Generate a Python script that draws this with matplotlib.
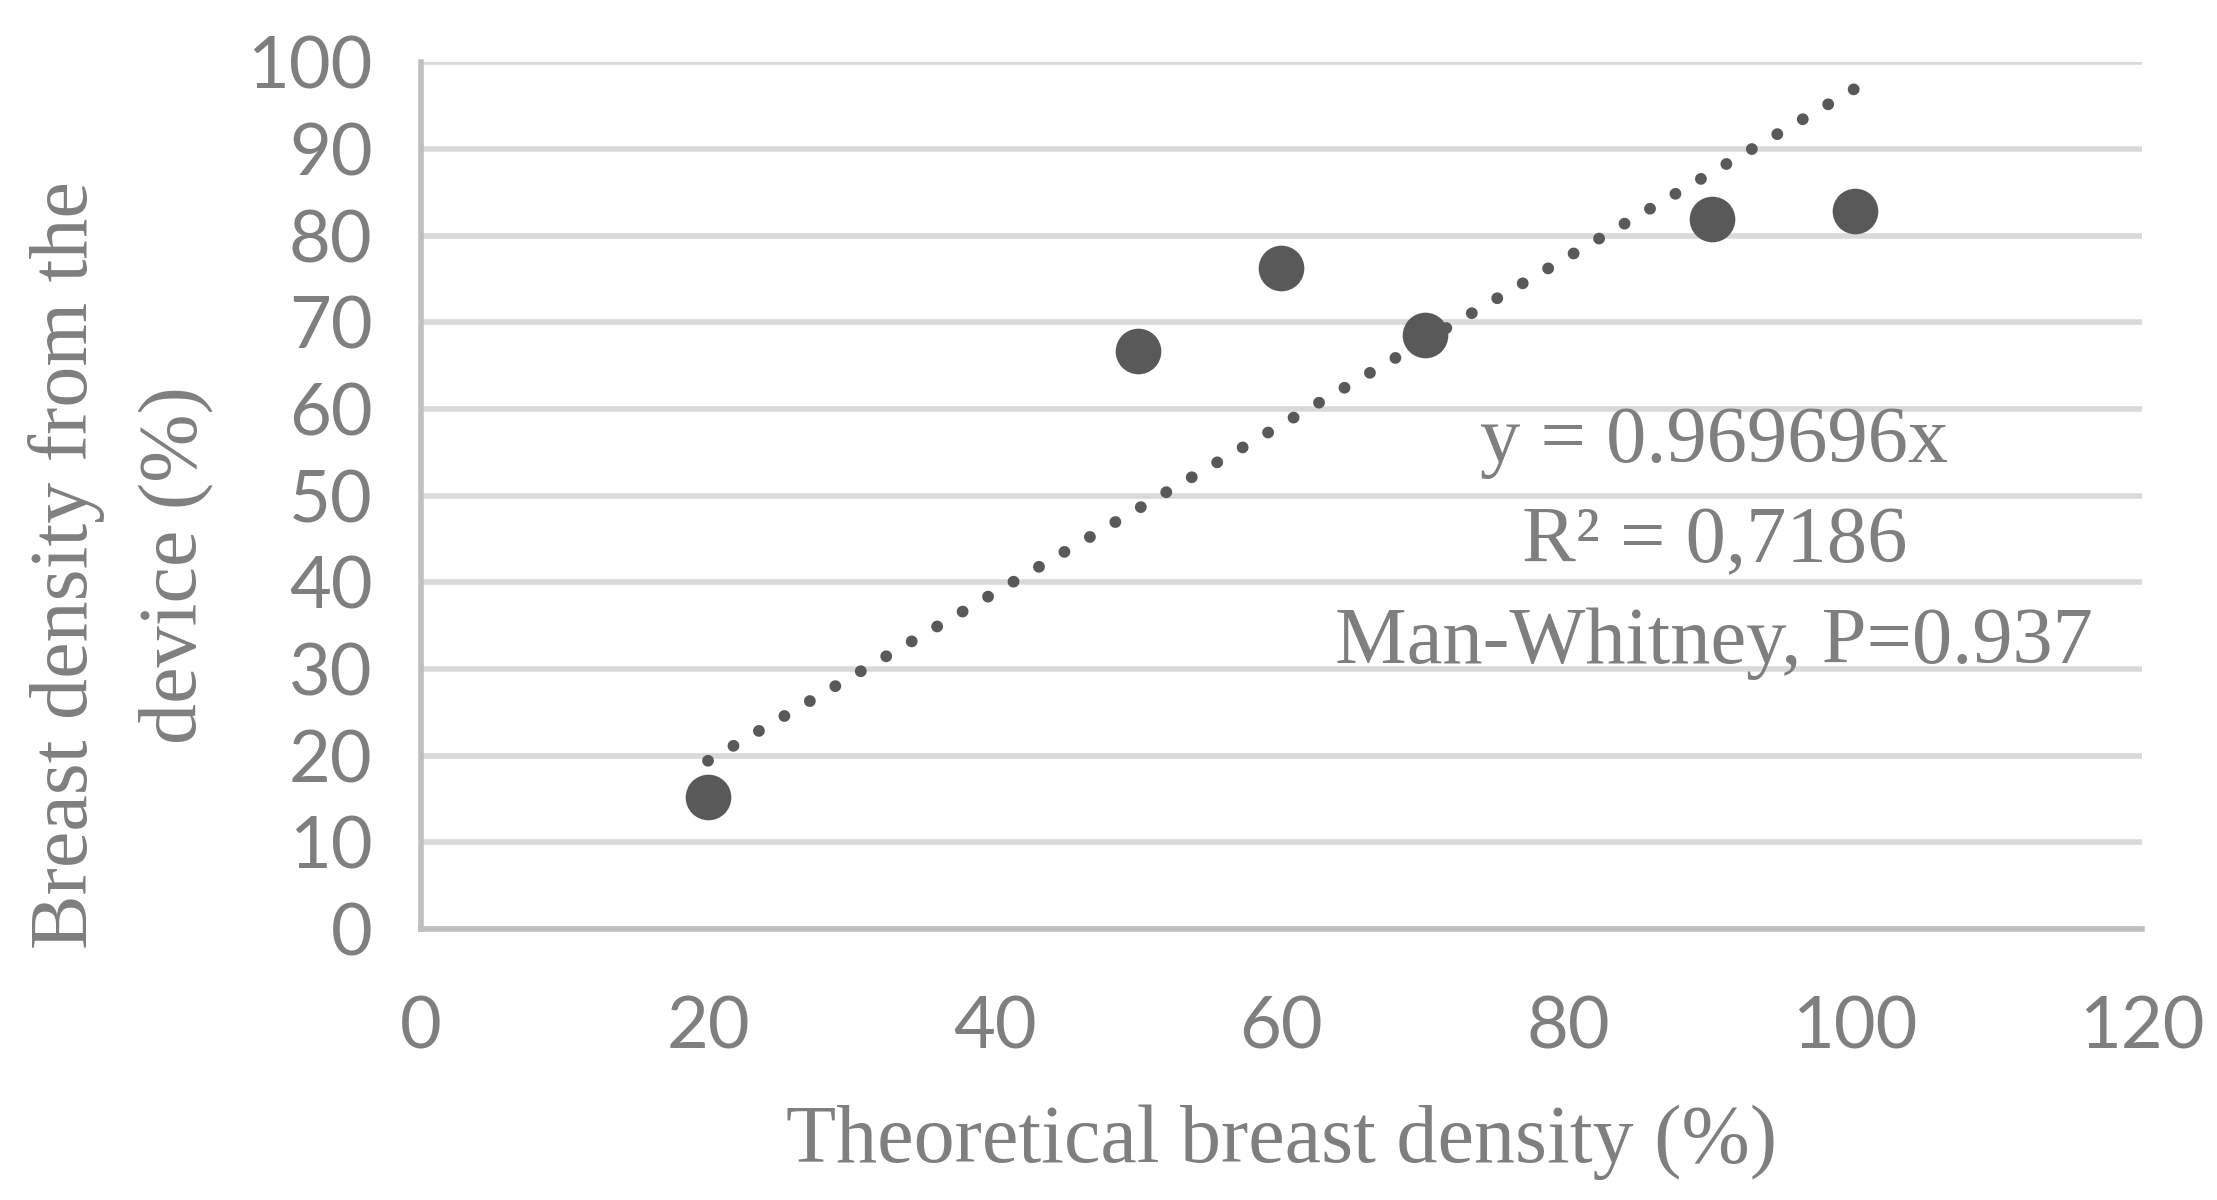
import matplotlib
matplotlib.use('Agg')
import matplotlib.pyplot as plt
import numpy as np

# data
theoretical = [20, 50, 60, 70, 90, 100]
device = [15.2, 66.7, 76.3, 68.5, 81.9, 82.9]
slope = 0.969696
xticks = [0, 20, 40, 60, 80, 100, 120]
yticks = [0, 10, 20, 30, 40, 50, 60, 70, 80, 90, 100]
notes = ['y = 0.969696x', 'R² = 0,7186', 'Man-Whitney, P=0.937']

txt = '#7f7f7f'
dark = '#595959'
serif = ['Liberation Serif', 'DejaVu Serif']
sans = ['Lato', 'DejaVu Sans']

fig = plt.figure(figsize=(22.17, 12), dpi=100)
ax = fig.add_axes([0.19, 0.226, 0.776, 0.722])
ax.set_xlim(0, 120)
ax.set_ylim(0, 100)

# trendline through origin over the data range; dots spaced so one lands on each end
xs = np.array([min(theoretical), max(theoretical)])
ys = slope * xs
p = ax.transData.transform(np.column_stack([xs, ys]))
length_pt = np.hypot(*(p[1] - p[0])) * 72 / fig.dpi
lw = 8.5
n = round(length_pt / (2.5 * lw))
gap = length_pt / (n + 0.05) / lw - 0.01
ax.plot(xs, ys, color=dark, lw=lw, linestyle=(0, (0.01, gap)),
        dash_capstyle='round', zorder=3)
ax.scatter(theoretical, device, s=1080, color=dark, zorder=4, linewidths=0)

ax.set_xticks(xticks)
ax.set_yticks(yticks)
ax.yaxis.grid(True, color='#d9d9d9', lw=4)
ax.set_axisbelow(True)
for s in ['top', 'right']:
    ax.spines[s].set_visible(False)
for s in ['left', 'bottom']:
    ax.spines[s].set_color('#bfbfbf')
    ax.spines[s].set_linewidth(4)
ax.tick_params(length=0, labelcolor=txt, labelsize=52, pad=35)
ax.tick_params(axis='x', pad=48)
for lab in ax.get_xticklabels() + ax.get_yticklabels():
    lab.set_family(sans)

ax.set_xlabel('Theoretical breast density (%)', family=serif, fontsize=59,
              color=txt, labelpad=32)
ax.set_ylabel('Breast density from the\ndevice (%)', family=serif, fontsize=59,
              color=txt, linespacing=1.6)
ax.yaxis.set_label_coords(-0.12, 0.42)

for i, n in enumerate(notes):
    ax.text(90.2, 56.1 - i * 11.6, n, family=serif, fontsize=58, color=txt,
            ha='center', va='center')

fig.savefig('out.png', dpi=100)
